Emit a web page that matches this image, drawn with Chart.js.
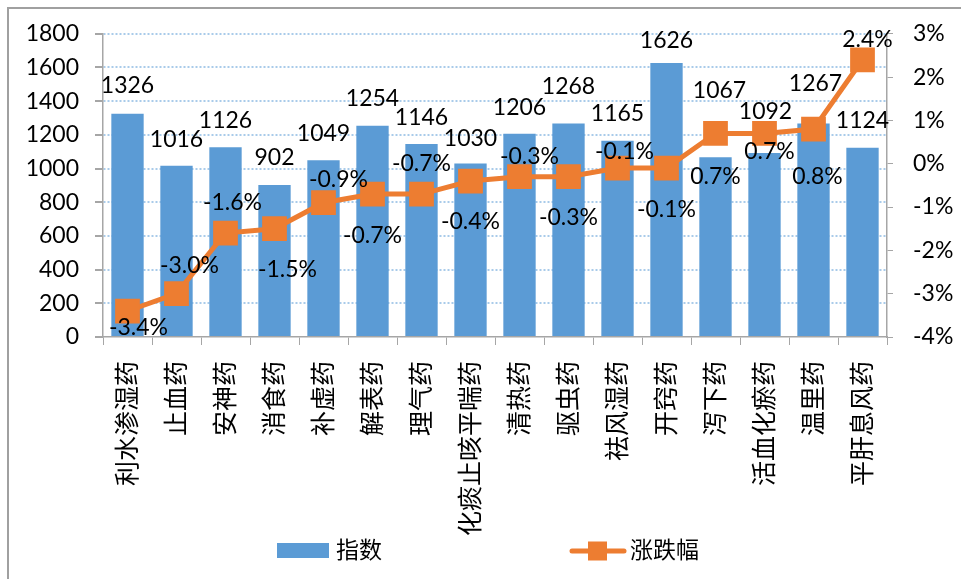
<!DOCTYPE html>
<html><head><meta charset="utf-8">
<script src="https://cdn.jsdelivr.net/npm/chart.js@4/dist/chart.umd.min.js"></script>
<style>
html,body{margin:0;padding:0;background:#fff;overflow:hidden;}
#frame{position:absolute;left:7px;top:7px;width:1000px;height:620px;border:2px solid #a0a0a0;box-sizing:border-box;}
#wrap{position:absolute;left:0;top:0;width:961px;height:579px;}
</style></head>
<body>
<div id="frame"></div>
<div id="wrap"><canvas id="c" width="961" height="579"></canvas></div>
<script>
const categories = ['利水渗湿药','止血药','安神药','消食药','补虚药','解表药','理气药','化痰止咳平喘药','清热药','驱虫药','祛风湿药','开窍药','泻下药','活血化瘀药','温里药','平肝息风药'];
const indexValues = [1326,1016,1126,902,1049,1254,1146,1030,1206,1268,1165,1626,1067,1092,1267,1124];
const changeValues = [-3.4,-3.0,-1.6,-1.5,-0.9,-0.7,-0.7,-0.4,-0.3,-0.3,-0.1,-0.1,0.7,0.7,0.8,2.4];
const seriesNames = ['指数','涨跌幅'];
const leftAxis = {min:0, max:1800, step:200};
const rightAxis = {min:-4, max:3, step:1};

// label placement styles (pixel offsets), separate from data
const changeLabelOffsets = [[11,17],[13,-28],[7,-30],[13,41],[15,-23],[0,42],[0,-30],[0,41],[10,-20],[0,41],[7,-16],[0,42],[0,43],[5,18],[4,47],[5,-20]];
const barLabelOffsets = [[0,-28],[0,-26],[0,-27],[0,-27],[0,-27],[0,-27],[0,-26],[0,-25],[0,-26],[0,-37],[0,-27],[0,-23],[4,-67],[1,-41],[2,-40],[0,-27]];

const FONT = 'Lato, "Noto Sans CJK SC", sans-serif';
const BLUE = '#5B9BD5', ORANGE = '#ED7D31', AXIS = '#a6a6a6';

const labelPlugin = {
  id:'labels',
  afterDatasetsDraw(chart){
    const ctx = chart.ctx;
    ctx.save();
    ctx.fillStyle = '#000';
    ctx.font = '23px ' + FONT;
    ctx.textAlign = 'center';
    ctx.textBaseline = 'middle';
    chart.getDatasetMeta(1).data.forEach((el,i)=>{
      const o = barLabelOffsets[i];
      ctx.fillText(String(indexValues[i]), el.x + o[0], el.y + o[1]);
    });
    chart.getDatasetMeta(0).data.forEach((el,i)=>{
      const o = changeLabelOffsets[i];
      ctx.fillText(changeValues[i].toFixed(1)+'%', el.x + o[0], el.y + o[1]);
    });
    ctx.restore();
  },
  afterDraw(chart){
    const ctx = chart.ctx;
    ctx.save();
    const y = 551;
    ctx.fillStyle = BLUE;
    ctx.fillRect(277, 543, 52, 15);
    ctx.fillStyle = '#000';
    ctx.font = '23px ' + FONT;
    ctx.textAlign = 'left';
    ctx.textBaseline = 'middle';
    ctx.fillText(seriesNames[0], 336, y);
    ctx.strokeStyle = ORANGE;
    ctx.lineWidth = 5;
    ctx.lineCap = 'round';
    ctx.beginPath(); ctx.moveTo(572, y); ctx.lineTo(624, y); ctx.stroke();
    ctx.fillStyle = ORANGE;
    ctx.fillRect(588, y-9.5, 19, 19);
    ctx.fillStyle = '#000';
    ctx.fillText(seriesNames[1], 630, y);
    ctx.restore();
  }
};

new Chart(document.getElementById('c'), {
  data:{
    labels: categories,
    datasets:[
      {type:'line', label:seriesNames[1], data:changeValues, yAxisID:'y2', borderColor:ORANGE, backgroundColor:ORANGE,
       borderWidth:5, pointStyle:'rect', pointRadius:17.5, pointHoverRadius:17.5, pointBorderWidth:0, tension:0, order:0},
      {type:'bar', label:seriesNames[0], data:indexValues, yAxisID:'y', backgroundColor:BLUE, borderWidth:0,
       barPercentage:0.66, categoryPercentage:1, order:1}
    ]
  },
  options:{
    responsive:false, animation:false, devicePixelRatio:1,
    layout:{padding:{top:25,left:0,right:0,bottom:0}},
    plugins:{legend:{display:false}, tooltip:{enabled:false}},
    scales:{
      x:{
        offset:true,
        grid:{display:true, drawOnChartArea:false, offset:true, color:AXIS, tickLength:8, lineWidth:1},
        border:{display:true, color:AXIS, width:1.5},
        ticks:{color:'#000', font:{family:FONT, size:25}, minRotation:90, maxRotation:90, padding:16, autoSkip:false},
        afterFit(s){ s.height = 242; }
      },
      y:{
        position:'left', min:leftAxis.min, max:leftAxis.max,
        ticks:{stepSize:leftAxis.step, color:'#000', font:{family:FONT, size:23}, padding:16, callback:(v)=> String(v)},
        grid:{color:(c)=> c.tick && c.tick.value===0 ? 'rgba(0,0,0,0)' : '#A9CBEA', lineWidth:2, tickColor:AXIS, tickLength:8, drawTicks:true},
        border:{display:true, color:AXIS, width:1.5, dash:[2,2], dashOffset:0},
        afterFit(s){ s.width = 103; }
      },
      y2:{
        position:'right', min:rightAxis.min, max:rightAxis.max,
        ticks:{stepSize:rightAxis.step, color:'#000', font:{family:FONT, size:23}, padding:20, callback:(v)=> v+'%'},
        grid:{drawOnChartArea:false, color:AXIS, tickLength:6},
        border:{display:true, color:AXIS, width:1.5},
        afterFit(s){ s.width = 74; }
      }
    }
  },
  plugins:[labelPlugin]
});
</script>
</body></html>
